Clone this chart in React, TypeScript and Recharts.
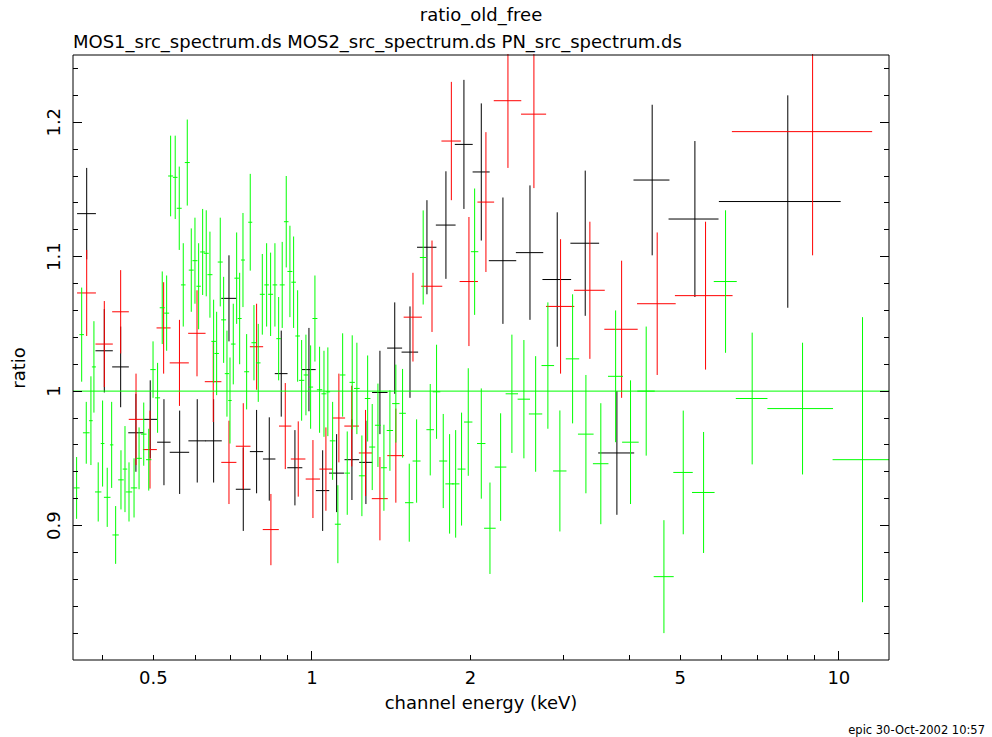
import React from 'react';
import { ScatterChart, Scatter, XAxis, YAxis, ErrorBar, ReferenceLine } from 'recharts';

// ---- axis ticks ----
const xTicks = [0.4, 0.5, 0.6, 0.7, 0.8, 0.9, 1, 2, 3, 4, 5, 6, 7, 8, 9, 10];
const xMajorTicks = [1, 10];
const xLabelTicks = [0.5, 1, 2, 5, 10];
const yTicks = [0.82, 0.84, 0.86, 0.88, 0.9, 0.92, 0.94, 0.96, 0.98, 1, 1.02, 1.04, 1.06, 1.08, 1.1, 1.12, 1.14, 1.16, 1.18, 1.2, 1.22, 1.24];
const yLabelTicks = [0.9, 1, 1.1, 1.2];

// ---- MOS1 (black) ----
const mos1Energy = [0.3737, 0.4036, 0.4335, 0.4634, 0.4933, 0.5238, 0.561, 0.6058, 0.6508, 0.6959,
  0.7408, 0.7852, 0.8299, 0.8745, 0.9284, 0.987, 1.048, 1.114, 1.191, 1.266,
  1.346, 1.436, 1.535, 1.653, 1.796, 1.943, 2.096, 2.304, 2.593, 2.921,
  3.301, 3.791, 4.423, 5.331, 8.0];
const mos1EnergyHalfWidth = [0.0154, 0.0153, 0.0158, 0.0153, 0.015, 0.0154, 0.0238, 0.023, 0.0236, 0.023,
  0.0238, 0.0228, 0.0226, 0.0244, 0.0305, 0.0296, 0.0305, 0.0365, 0.038, 0.0365,
  0.0455, 0.047, 0.0555, 0.07, 0.0775, 0.076, 0.078, 0.138, 0.155, 0.183,
  0.207, 0.298, 0.347, 0.58, 2.08];
const mos1Ratio = [1.132, 1.03, 1.018, 0.969, 0.979, 0.962, 0.9545, 0.963, 0.963, 1.069,
  0.927, 0.955, 0.9495, 1.013, 0.943, 1.016, 0.926, 0.939, 0.949, 0.947,
  0.999, 1.032, 1.029, 1.107, 1.1235, 1.1835, 1.163, 1.097, 1.103, 1.083,
  1.11, 0.954, 1.157, 1.128, 1.141];
const mos1RatioErr = [0.034, 0.031, 0.03, 0.029, 0.029, 0.032, 0.031, 0.031, 0.031, 0.032,
  0.031, 0.031, 0.031, 0.032, 0.028, 0.031, 0.03, 0.029, 0.03, 0.031,
  0.031, 0.034, 0.034, 0.035, 0.04, 0.048, 0.051, 0.047, 0.05, 0.05,
  0.054, 0.046, 0.056, 0.058, 0.079];

// ---- MOS2 (red) ----
const mos2Energy = [0.3737, 0.4036, 0.4335, 0.4636, 0.4928, 0.5231, 0.5605, 0.6052, 0.6497, 0.6959,
  0.7408, 0.7852, 0.8359, 0.89, 0.9419, 1.0044, 1.063, 1.125, 1.19, 1.264,
  1.346, 1.443, 1.555, 1.69, 1.839, 1.986, 2.139, 2.355, 2.638, 2.964,
  3.369, 3.87, 4.521, 5.585, 8.916];
const mos2EnergyHalfWidth = [0.0154, 0.0153, 0.0158, 0.0145, 0.015, 0.016, 0.0234, 0.023, 0.0236, 0.023,
  0.0238, 0.0228, 0.0293, 0.024, 0.03, 0.0314, 0.03, 0.031, 0.038, 0.0365,
  0.047, 0.053, 0.062, 0.0775, 0.078, 0.0795, 0.078, 0.1415, 0.1445, 0.183,
  0.2265, 0.282, 0.381, 0.7, 2.65];
const mos2Ratio = [1.073, 1.035, 1.059, 0.979, 0.9565, 1.047, 1.021, 1.043, 1.007, 0.947,
  0.959, 1.033, 0.897, 0.974, 0.9495, 0.9346, 0.942, 0.98, 0.974, 0.954,
  0.92, 0.952, 1.055, 1.078, 1.186, 1.0815, 1.1406, 1.216, 1.206, 1.063,
  1.075, 1.046, 1.065, 1.071, 1.193];
const mos2RatioErr = [0.032, 0.032, 0.031, 0.034, 0.029, 0.034, 0.032, 0.032, 0.03, 0.031,
  0.032, 0.032, 0.0265, 0.032, 0.028, 0.029, 0.031, 0.033, 0.03, 0.032,
  0.031, 0.035, 0.033, 0.034, 0.044, 0.048, 0.052, 0.05, 0.055, 0.05,
  0.051, 0.051, 0.053, 0.055, 0.092];

// ---- PN (green) ----
const pnEnergy = [0.3576, 0.3656, 0.373, 0.3807, 0.3857, 0.393, 0.4006, 0.4088, 0.4168, 0.4241,
  0.4341, 0.4418, 0.4496, 0.4596, 0.4698, 0.4795, 0.4901, 0.4994, 0.5094, 0.5199,
  0.53, 0.5393, 0.5502, 0.56, 0.5699, 0.58, 0.5902, 0.5998, 0.6095, 0.6203,
  0.6301, 0.6404, 0.6508, 0.6594, 0.6699, 0.6799, 0.6898, 0.699, 0.7091, 0.7197,
  0.7292, 0.7398, 0.7518, 0.7637, 0.7762, 0.7909, 0.805, 0.8204, 0.8348, 0.8507,
  0.8646, 0.8782, 0.8938, 0.9083, 0.9231, 0.9394, 0.956, 0.9741, 0.9943, 1.0132,
  1.034, 1.054, 1.072, 1.0947, 1.12, 1.1436, 1.1668, 1.1925, 1.217, 1.244,
  1.2757, 1.3014, 1.3343, 1.3696, 1.406, 1.443, 1.486, 1.53, 1.58, 1.626,
  1.677, 1.724, 1.775, 1.825, 1.874, 1.923, 1.98, 2.036, 2.096, 2.177,
  2.281, 2.396, 2.525, 2.658, 2.804, 2.955, 3.124, 3.311, 3.534, 3.77,
  4.024, 4.309, 4.656, 5.066, 5.537, 6.095, 6.847, 8.533, 11.09];
const pnEnergyHalfWidth = [0.0047, 0.0037, 0.0054, 0.003, 0.0034, 0.0055, 0.0032, 0.0059, 0.0031, 0.0059,
  0.0053, 0.0044, 0.0063, 0.0064, 0.0058, 0.0059, 0.0058, 0.0059, 0.0056, 0.0057,
  0.0058, 0.0059, 0.0055, 0.0061, 0.0057, 0.0063, 0.0064, 0.0066, 0.0059, 0.0068,
  0.0069, 0.007, 0.0065, 0.0066, 0.0073, 0.0074, 0.0066, 0.0052, 0.0071, 0.0072,
  0.0064, 0.0065, 0.0082, 0.0067, 0.0085, 0.008, 0.0088, 0.0082, 0.0091, 0.0085,
  0.0087, 0.0096, 0.009, 0.0099, 0.0093, 0.0094, 0.0113, 0.0098, 0.0109, 0.011,
  0.0122, 0.0115, 0.0108, 0.0134, 0.0147, 0.014, 0.0143, 0.014, 0.015, 0.0163,
  0.0156, 0.0171, 0.0175, 0.018, 0.0196, 0.0233, 0.0214, 0.0281, 0.0276, 0.0235,
  0.0278, 0.0286, 0.031, 0.0335, 0.0311, 0.0336, 0.0363, 0.0329, 0.0385, 0.0552,
  0.0578, 0.0649, 0.0684, 0.0778, 0.0772, 0.0865, 0.0914, 0.113, 0.12, 0.1235,
  0.146, 0.164, 0.2035, 0.2147, 0.273, 0.306, 0.473, 1.216, 1.36];
const pnRatio = [0.928, 1.042, 0.969, 0.978, 1.018, 0.925, 0.961, 0.921, 0.96, 0.893,
  0.934, 0.942, 0.925, 0.928, 0.95, 0.968, 0.949, 1.016, 0.995, 1.062,
  1.058, 1.16, 1.159, 1.136, 1.079, 1.17, 1.09, 1.097, 1.078, 1.1035,
  1.1025, 1.0866, 1.037, 1.028, 1.096, 1.053, 1.013, 0.993, 1.035, 1.084,
  1.054, 1.0975, 1.0144, 1.1256, 1.036, 1.021, 1.072, 1.079, 1.072, 1.079,
  1.039, 1.079, 1.126, 1.089, 1.081, 1.041, 1.008, 1.012, 1.003, 1.054,
  1.001, 0.998, 0.9995, 0.963, 0.901, 1.012, 0.939, 1.0065, 1.002, 0.937,
  0.9945, 0.9584, 0.9746, 0.943, 0.9707, 0.9907, 0.9835, 0.917, 0.948, 1.0994,
  0.9713, 0.9995, 0.948, 0.931, 0.931, 0.942, 0.977, 1.1037, 0.961, 0.898,
  0.9435, 0.998, 0.994, 0.983, 1.019, 0.9406, 1.024, 0.968, 0.946, 1.011,
  0.962, 1.0, 0.862, 0.9395, 0.9246, 1.0815, 0.9945, 0.987, 0.949];
const pnRatioErr = [0.023, 0.035, 0.023, 0.033, 0.034, 0.022, 0.032, 0.022, 0.032, 0.0215,
  0.022, 0.032, 0.022, 0.022, 0.023, 0.0235, 0.023, 0.021, 0.026, 0.027,
  0.028, 0.03, 0.031, 0.031, 0.031, 0.032, 0.031, 0.032, 0.032, 0.032,
  0.032, 0.032, 0.031, 0.031, 0.033, 0.032, 0.032, 0.032, 0.03, 0.034,
  0.034, 0.035, 0.028, 0.036, 0.028, 0.029, 0.03, 0.031, 0.031, 0.031,
  0.031, 0.032, 0.034, 0.034, 0.034, 0.034, 0.03, 0.03, 0.031, 0.032,
  0.032, 0.032, 0.033, 0.029, 0.029, 0.031, 0.031, 0.035, 0.034, 0.03,
  0.032, 0.032, 0.031, 0.032, 0.03, 0.029, 0.033, 0.029, 0.031, 0.035,
  0.034, 0.035, 0.035, 0.037, 0.04, 0.042, 0.04, 0.047, 0.041, 0.034,
  0.04, 0.044, 0.044, 0.043, 0.047, 0.045, 0.048, 0.044, 0.045, 0.049,
  0.046, 0.048, 0.042, 0.046, 0.045, 0.053, 0.049, 0.049, 0.106];

const FONT = '"DejaVu Sans", sans-serif';
const X_DOMAIN = [0.352, 12.45];
const Y_DOMAIN = [0.8, 1.25];
const MARGIN = { top: 54, right: 102, bottom: 76, left: 72 };

const near = (v: number, list: number[]) => list.some((t) => Math.abs(t - v) < 1e-6);

function buildRows(E: number[], dE: number[], R: number[], dR: number[]) {
  return E.map((e, i) => ({ e, r: R[i], ex: dE[i], ey: dR[i] }));
}

const mos1Rows = buildRows(mos1Energy, mos1EnergyHalfWidth, mos1Ratio, mos1RatioErr);
const mos2Rows = buildRows(mos2Energy, mos2EnergyHalfWidth, mos2Ratio, mos2RatioErr);
const pnRows = buildRows(pnEnergy, pnEnergyHalfWidth, pnRatio, pnRatioErr);

const noShape = () => <g />;

function BottomTick(props: any) {
  const { x, y, payload } = props;
  const v = payload.value;
  const len = near(v, xMajorTicks) ? 9 : 5;
  return (
    <g>
      <line x1={x} y1={y} x2={x} y2={y - len} stroke="#000" strokeWidth={1} shapeRendering="crispEdges" />
      {near(v, xLabelTicks) && (
        <text x={x} y={y + 24} textAnchor="middle" fontFamily={FONT} fontSize={18} fill="#000">
          {String(v)}
        </text>
      )}
    </g>
  );
}

function TopTick(props: any) {
  const { x, y, payload } = props;
  const len = near(payload.value, xMajorTicks) ? 9 : 5;
  return <line x1={x} y1={y} x2={x} y2={y + len} stroke="#000" strokeWidth={1} shapeRendering="crispEdges" />;
}

function LeftTick(props: any) {
  const { x, y, payload } = props;
  const v = payload.value;
  const len = near(v, yLabelTicks) ? 9 : 5;
  const lx = x - 13;
  return (
    <g>
      <line x1={x} y1={y} x2={x + len} y2={y} stroke="#000" strokeWidth={1} shapeRendering="crispEdges" />
      {near(v, yLabelTicks) && (
        <text x={lx} y={y} transform={`rotate(-90, ${lx}, ${y})`} textAnchor="middle" fontFamily={FONT} fontSize={18} fill="#000">
          {String(v)}
        </text>
      )}
    </g>
  );
}

function RightTick(props: any) {
  const { x, y, payload } = props;
  const len = near(payload.value, yLabelTicks) ? 9 : 5;
  return <line x1={x} y1={y} x2={x - len} y2={y} stroke="#000" strokeWidth={1} shapeRendering="crispEdges" />;
}

const series = [
  { name: 'MOS1', rows: mos1Rows, color: '#000000' },
  { name: 'MOS2', rows: mos2Rows, color: '#ff0000' },
  { name: 'PN', rows: pnRows, color: '#00ff00' },
];

export default function App() {
  return (
    <div style={{ position: 'absolute', left: 0, top: 0, width: 992, height: 737, background: '#fff' }}>
      <ScatterChart width={992} height={737} margin={MARGIN}>
        <XAxis
          xAxisId="b"
          dataKey="e"
          type="number"
          scale="log"
          domain={X_DOMAIN}
          allowDataOverflow
          ticks={xTicks}
          interval={0}
          height={1}
          tickSize={0}
          tickMargin={0}
          tickLine={false}
          axisLine={{ stroke: '#000', strokeWidth: 1 }}
          tick={<BottomTick />}
        />
        <XAxis
          xAxisId="t"
          orientation="top"
          type="number"
          scale="log"
          domain={X_DOMAIN}
          allowDataOverflow
          ticks={xTicks}
          interval={0}
          height={1}
          tickSize={0}
          tickMargin={0}
          tickLine={false}
          axisLine={{ stroke: '#000', strokeWidth: 1 }}
          tick={<TopTick />}
        />
        <YAxis
          yAxisId="l"
          dataKey="r"
          type="number"
          domain={Y_DOMAIN}
          allowDataOverflow
          ticks={yTicks}
          interval={0}
          width={1}
          tickSize={0}
          tickMargin={0}
          tickLine={false}
          axisLine={{ stroke: '#000', strokeWidth: 1 }}
          tick={<LeftTick />}
        />
        <YAxis
          yAxisId="r"
          orientation="right"
          type="number"
          domain={Y_DOMAIN}
          allowDataOverflow
          ticks={yTicks}
          interval={0}
          width={1}
          tickSize={0}
          tickMargin={0}
          tickLine={false}
          axisLine={{ stroke: '#000', strokeWidth: 1 }}
          tick={<RightTick />}
        />
        {series.map((s) => (
          <Scatter
            key={s.name}
            name={s.name}
            data={s.rows}
            xAxisId="b"
            yAxisId="l"
            shape={noShape}
            isAnimationActive={false}
          >
            <ErrorBar dataKey="ex" direction="x" width={0} stroke={s.color} strokeWidth={1} isAnimationActive={false} />
            <ErrorBar dataKey="ey" direction="y" width={0} stroke={s.color} strokeWidth={1} isAnimationActive={false} />
          </Scatter>
        ))}
        <ReferenceLine xAxisId="b" yAxisId="l" y={1} stroke="#00ff00" strokeWidth={1} />
      </ScatterChart>
      <svg width={992} height={737} style={{ position: 'absolute', left: 0, top: 0, pointerEvents: 'none' }}>
        {/* clip the error bars that run past the top of the frame */}
        <rect x={0} y={0} width={992} height={MARGIN.top} fill="#fff" />
        <text x={481} y={21} textAnchor="middle" fontFamily={FONT} fontSize={18} fill="#000">ratio_old_free</text>
        <text x={73} y={48} textAnchor="start" fontFamily={FONT} fontSize={18} fill="#000">
          MOS1_src_spectrum.ds MOS2_src_spectrum.ds PN_src_spectrum.ds
        </text>
        <text x={481} y={709} textAnchor="middle" fontFamily={FONT} fontSize={18} fill="#000">channel energy (keV)</text>
        <text x={25} y={368} transform="rotate(-90, 25, 368)" textAnchor="middle" fontFamily={FONT} fontSize={18} fill="#000">ratio</text>
        <text x={985} y={734} textAnchor="end" fontFamily={FONT} fontSize={11.5} fill="#000">epic 30-Oct-2002 10:57</text>
      </svg>
    </div>
  );
}
